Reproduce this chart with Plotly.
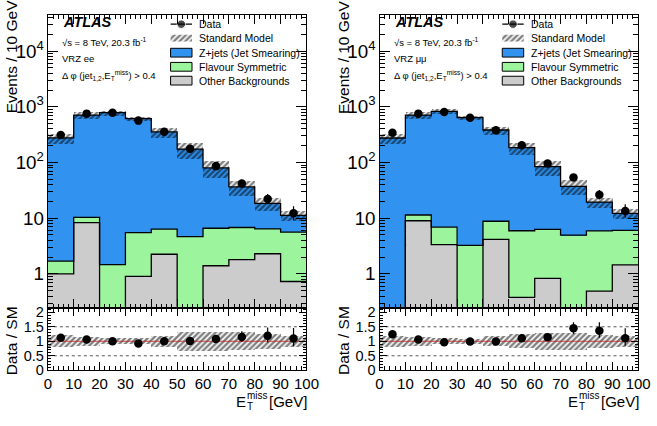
import numpy as np
import plotly.graph_objects as go

W, H = 657, 426

# ---------------- data ----------------
bin_edges = [0, 10, 20, 30, 40, 50, 60, 70, 80, 90, 100]

ee_data      = [310, 753, 783, 564, 355, 176, 86, 42, 22, 12.3]
ee_zjets     = [274.3, 699.7, 781.5, 607.5, 348.7, 169.3, 73.4, 29.7, 12.1, 5.6]
ee_flavsym   = [0.7, 2.0, 1.47, 4.6, 4.1, 4.68, 5.2, 5.0, 4.1, 4.9]
ee_other     = [1.0, 8.3, 0.0, 0.9, 2.25, 0.0, 1.4, 1.8, 2.3, 0.73]
ee_sm_relerr = [0.21, 0.15, 0.10, 0.10, 0.20, 0.32, 0.33, 0.31, 0.26, 0.19]

mm_data      = [341, 753, 804, 634, 379, 204, 96, 54, 26.4, 13.5]
mm_zjets     = [274.85, 698.6, 822.1, 636.8, 374.2, 179.0, 77.7, 32.4, 13.5, 6.15]
mm_flavsym   = [0.15, 2.4, 3.55, 3.24, 4.65, 5.57, 5.47, 4.95, 5.41, 4.6]
mm_other     = [0.0, 9.0, 3.35, 0.0, 4.15, 0.38, 0.83, 0.0, 0.49, 1.45]
mm_sm_relerr = [0.20, 0.15, 0.10, 0.09, 0.17, 0.24, 0.30, 0.30, 0.22, 0.20]

legend_labels = ["Data", "Standard Model", "Z+jets (Jet Smearing)",
                 "Flavour Symmetric", "Other Backgrounds"]
channel_labels = ["VRZ ee", "VRZ μμ"]

# ---------------- style ----------------
FONT = "Liberation Sans"
C_Z = "#3192ef"
C_FS = "#9cf59c"
C_OTH = "#cccccc"
HATCH = dict(shape="/", fgcolor="#000000", bgcolor="rgba(0,0,0,0)",
             size=4, solidity=0.6, fillmode="overlay")

# pixel geometry
PANEL_LEFT = [45.0, 385.5]
PW = 265.5
MAIN_TOP, MAIN_BOT = 12.0, 313.0
RAT_BOT = 377.0
MH = MAIN_BOT - MAIN_TOP

def fx(px):
    return px / W

def fy(py):
    return 1 - py / H

edges = np.array(bin_edges, dtype=float)
centers = 0.5 * (edges[:-1] + edges[1:])
widths = np.diff(edges)

fig = go.Figure()

def step_y(v):
    v = np.asarray(v, dtype=float)
    v = np.where(v > 0, v, 1e-3)
    return np.append(v, v[-1])

def poisson_err(n):
    n = np.asarray(n, dtype=float)
    s = np.sqrt(n + 0.25)
    return s + 0.5, s - 0.5

def txt(text, px, py, size, xanchor="left", angle=0):
    fig.add_annotation(text=text, x=fx(px), y=fy(py), xref="paper", yref="paper",
                       xanchor=xanchor, yanchor="middle", showarrow=False, textangle=angle,
                       font=dict(family=FONT, size=size, color="black"))

def add_panel(i, data, zj, fs, oth, relerr):
    xm, ym = ("x", "y") if i == 0 else ("x2", "y2")
    xr, yr = ("x3", "y3") if i == 0 else ("x4", "y4")
    xk, yk = ("x5", "y5") if i == 0 else ("x6", "y6")
    data = np.array(data, float)
    zj = np.array(zj, float); fs = np.array(fs, float); oth = np.array(oth, float)
    e = np.array(relerr, float)
    sm = zj + fs + oth
    low = oth + fs
    # stacked fills (cumulative, drawn from the bottom)
    for vals, col in [(sm, C_Z), (low, C_FS), (oth, C_OTH)]:
        fig.add_trace(go.Bar(x=centers, y=vals, width=widths, marker=dict(color=col, line=dict(width=0)),
                             xaxis=xm, yaxis=ym, showlegend=False, hoverinfo="skip"))
    # SM uncertainty band
    fig.add_trace(go.Bar(x=centers, y=2 * sm * e, base=sm * (1 - e), width=widths,
                         marker=dict(color="rgba(0,0,0,0)", line=dict(width=0), pattern=HATCH),
                         xaxis=xm, yaxis=ym, showlegend=False, hoverinfo="skip"))
    # outlines
    for vals in [oth, low, sm]:
        fig.add_trace(go.Scatter(x=edges, y=step_y(vals), mode="lines", line=dict(color="black", width=1.3, shape="hv"),
                                 xaxis=xm, yaxis=ym, showlegend=False, hoverinfo="skip"))
    up, dn = poisson_err(data)
    fig.add_trace(go.Scatter(x=centers, y=data, mode="markers",
                             marker=dict(color="black", size=8.5),
                             error_y=dict(type="data", array=up, arrayminus=dn, color="black", thickness=1.2, width=0),
                             xaxis=xm, yaxis=ym, showlegend=False))
    # ratio
    fig.add_trace(go.Bar(x=centers, y=2 * e, base=1 - e, width=widths,
                         marker=dict(color="rgba(0,0,0,0)", line=dict(width=0), pattern=HATCH),
                         xaxis=xr, yaxis=yr, showlegend=False, hoverinfo="skip"))
    fig.add_trace(go.Scatter(x=[edges[0], edges[-1]], y=[1, 1], mode="lines", line=dict(color="#cc2222", width=0.8),
                             xaxis=xr, yaxis=yr, showlegend=False, hoverinfo="skip"))
    fig.add_trace(go.Scatter(x=centers, y=data / sm, mode="markers",
                             marker=dict(color="black", size=8.5),
                             error_y=dict(type="data", array=up / sm, arrayminus=dn / sm, color="black", thickness=1.2, width=0),
                             xaxis=xr, yaxis=yr, showlegend=False))
    for yv in (0.5, 1.5):
        fig.add_shape(type="line", xref=xr, yref=yr, x0=edges[0], x1=edges[-1], y0=yv, y1=yv,
                      line=dict(color="#555555", width=1, dash="dot"), layer="below")

    # ---- legend keys (panel-relative pixel axes) ----
    k0, k1 = 126, 148
    fig.add_trace(go.Scatter(x=[k0, (k0 + k1) / 2, k1], y=[9.7, 9.7, 9.7], mode="lines+markers",
                             line=dict(color="black", width=1.2), marker=dict(color="black", size=[0, 8.5, 0]),
                             xaxis=xk, yaxis=yk, showlegend=False, hoverinfo="skip"))
    fig.add_trace(go.Scatter(x=[k0, k1, k1, k0, k0], y=[20.5, 20.5, 27.5, 27.5, 20.5], mode="lines",
                             fill="toself", fillcolor="rgba(0,0,0,0)", line=dict(width=0),
                             fillpattern=HATCH, xaxis=xk, yaxis=yk, showlegend=False, hoverinfo="skip"))
    for (y0, y1), col in [((34.5, 43.5), C_Z), ((49.0, 58.0), C_FS), ((63.2, 72.2), C_OTH)]:
        fig.add_trace(go.Scatter(x=[k0, k1, k1, k0, k0], y=[y0, y0, y1, y1, y0], mode="lines",
                                 fill="toself", fillcolor=col, line=dict(color="black", width=1),
                                 xaxis=xk, yaxis=yk, showlegend=False, hoverinfo="skip"))

    L = PANEL_LEFT[i]
    for t, yy in zip(legend_labels, [9.7, 24, 39, 53.5, 68]):
        txt(t, L + 153, MAIN_TOP + yy, 10.5)
    txt("<b><i>ATLAS</i></b>", L + 13.5, MAIN_TOP + 7.8, 14.5)
    info = ["√s = 8 TeV, 20.3 fb<sup>-1</sup>", channel_labels[i],
            "Δ φ (jet<sub>1,2</sub>,E<sub>T</sub><sup>miss</sup>) > 0.4"]
    for t, yy in zip(info, [28, 45.3, 62]):
        txt(t, L + 13, MAIN_TOP + yy, 9.5)
    # axis titles
    txt("Events / 10 GeV", L - 37, 55, 15.5, xanchor="center", angle=-90)
    txt("Data / SM", L - 37, 346.5, 15.5, xanchor="center", angle=-90)
    R = L + PW
    txt("[GeV]", R + 2.5, 409.5, 15, xanchor="right")
    txt("E", R - 74, 409.5, 15)
    txt("miss", R - 63, 402.5, 10)
    txt("T", R - 63, 414.5, 10)

add_panel(0, ee_data, ee_zjets, ee_flavsym, ee_other, ee_sm_relerr)
add_panel(1, mm_data, mm_zjets, mm_flavsym, mm_other, mm_sm_relerr)

common = dict(showline=True, linecolor="black", linewidth=1, mirror="allticks", ticks="inside",
              tickcolor="black", showgrid=False, zeroline=False)
minor_x = dict(ticks="inside", ticklen=4, dtick=2, tickcolor="black", showgrid=False)

layout = dict(width=W, height=H, margin=dict(l=0, r=0, t=0, b=0), barmode="overlay", bargap=0,
              paper_bgcolor="white", plot_bgcolor="rgba(0,0,0,0)", showlegend=False,
              font=dict(family=FONT, color="black"))
for i in range(2):
    L = PANEL_LEFT[i]
    dom_x = [fx(L), fx(L + PW)]
    mx = "xaxis" if i == 0 else "xaxis2"
    my = "yaxis" if i == 0 else "yaxis2"
    rx = "xaxis3" if i == 0 else "xaxis4"
    ry = "yaxis3" if i == 0 else "yaxis4"
    kx = "xaxis5" if i == 0 else "xaxis6"
    ky = "yaxis5" if i == 0 else "yaxis6"
    sfx = "" if i == 0 else "2"
    rsfx = "3" if i == 0 else "4"
    layout[mx] = dict(common, domain=dom_x, range=[0, 100], anchor="y" + sfx, dtick=10, tick0=0, ticklen=9,
                      showticklabels=False, minor=minor_x)
    layout[my] = dict(common, domain=[fy(MAIN_BOT), fy(MAIN_TOP)], type="log", range=[-0.611, 4.653],
                      anchor="x" + sfx, dtick=1, exponentformat="power", ticklen=10,
                      tickfont=dict(family=FONT, size=15, color="black"),
                      minor=dict(ticks="inside", ticklen=5, dtick="D1", tickcolor="black", showgrid=False))
    layout[rx] = dict(common, domain=dom_x, range=[0, 100], anchor="y" + rsfx, dtick=10, tick0=0, ticklen=8,
                      ticklabelstandoff=0, ticklabeloverflow="allow",
                      tickfont=dict(family=FONT, size=15, color="black"), minor=minor_x)
    layout[ry] = dict(common, domain=[fy(RAT_BOT), fy(MAIN_BOT)], range=[0, 2.15], anchor="x" + rsfx,
                      dtick=0.5, tick0=0, ticklen=7, tickfont=dict(family=FONT, size=14.5, color="black"),
                      minor=dict(ticks="inside", ticklen=3.5, dtick=0.1, tickcolor="black", showgrid=False))
    layout[kx] = dict(overlaying="x" + sfx, range=[0, PW], visible=False, anchor="y" + str(5 + i))
    layout[ky] = dict(overlaying="y" + sfx, range=[MH, 0], visible=False, anchor="x" + str(5 + i))

fig.update_layout(**layout)
fig.write_html("out.html", config={"displayModeBar": False})
